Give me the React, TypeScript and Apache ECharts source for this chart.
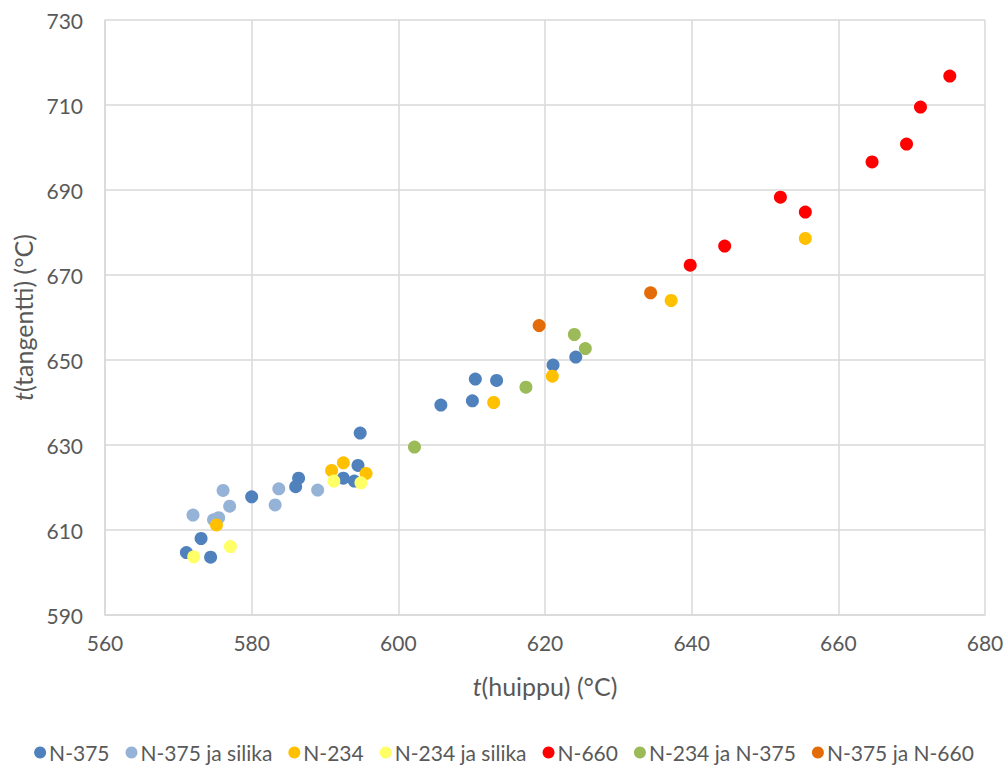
import React, { useEffect, useRef } from "react";
import * as echarts from "echarts";

// [t(huippu), t(tangentti)] pairs, °C
const n375: number[][] = [
  [594.8, 632.8], [594.5, 625.2], [592.5, 622.2], [594.0, 621.5], [586.4, 622.2],
  [586.0, 620.2], [580.0, 617.8], [573.1, 608.0], [571.1, 604.7], [574.4, 603.6],
  [624.2, 650.7], [621.1, 648.8], [610.5, 645.5], [613.4, 645.2], [610.1, 640.4],
  [605.8, 639.4],
];
const n375Silika: number[][] = [
  [583.7, 619.7], [589.0, 619.4], [576.1, 619.3], [577.0, 615.6], [583.2, 615.9],
  [572.0, 613.5], [574.8, 612.4], [575.5, 612.9],
];
const n234: number[][] = [
  [592.5, 625.8], [590.9, 624.0], [595.6, 623.3], [575.2, 611.2], [621.0, 646.2],
  [613.0, 640.0], [655.5, 678.6], [637.2, 664.0],
];
const n234Silika: number[][] = [
  [591.2, 621.5], [594.9, 621.1], [577.1, 606.1], [572.1, 603.7],
];
const n660: number[][] = [
  [675.2, 716.8], [671.2, 709.5], [669.3, 700.8], [664.6, 696.6], [652.1, 688.3],
  [655.5, 684.8], [644.5, 676.8], [639.8, 672.3],
];
const n234N375: number[][] = [
  [602.2, 629.5], [624.0, 656.0], [625.5, 652.7], [617.4, 643.6],
];
const n375N660: number[][] = [
  [634.4, 665.8], [619.2, 658.1],
];

const seriesDefs = [
  { name: "N-375", data: n375, color: "#4F81BD" },
  { name: "N-375 ja silika", data: n375Silika, color: "#95B3D7" },
  { name: "N-234", data: n234, color: "#FFC000" },
  { name: "N-234 ja silika", data: n234Silika, color: "#FFFF66" },
  { name: "N-660", data: n660, color: "#FF0000" },
  { name: "N-234 ja N-375", data: n234N375, color: "#9BBB59" },
  { name: "N-375 ja N-660", data: n375N660, color: "#E36C09" },
];

const FONT = "Lato, 'Noto Sans', sans-serif";
const GRID = "#D9D9D9";
const TEXT = "#595959";
const NAME_SIZE = 25;

export default function App() {
  const ref = useRef<HTMLDivElement>(null);

  useEffect(() => {
    if (!ref.current) return;
    const chart = echarts.init(ref.current, undefined, { renderer: "svg" });
    const axisCommon = {
      type: "value" as const,
      interval: 20,
      axisLine: { show: true, lineStyle: { color: GRID, width: 1.5 } },
      axisTick: { show: false },
      splitLine: { show: true, lineStyle: { color: GRID, width: 1.5 } },
      axisLabel: { color: TEXT, fontSize: 21, fontFamily: FONT },
      nameLocation: "middle" as const,
      nameTextStyle: {
        color: TEXT,
        fontSize: NAME_SIZE,
        fontFamily: FONT,
        rich: {
          i: { fontStyle: "italic", color: TEXT, fontSize: NAME_SIZE, fontFamily: FONT },
          n: { color: TEXT, fontSize: NAME_SIZE, fontFamily: FONT },
        },
      },
    };
    chart.setOption({
      animation: false,
      backgroundColor: "#ffffff",
      grid: { left: 105, right: 23, top: 20, bottom: 150, containLabel: false },
      xAxis: {
        ...axisCommon,
        min: 560,
        max: 680,
        name: "{i|t}{n|(huippu) (°C)}",
        nameGap: 58,
        axisLabel: { ...axisCommon.axisLabel, margin: 17 },
      },
      yAxis: {
        ...axisCommon,
        min: 590,
        max: 730,
        name: "{i|t}{n|(tangentti) (°C)}",
        nameGap: 66,
        axisLabel: { ...axisCommon.axisLabel, margin: 22 },
      },
      legend: {
        top: 742,
        left: "center",
        padding: 0,
        icon: "circle",
        itemWidth: 12,
        itemHeight: 12,
        itemGap: 16,
        textStyle: { color: TEXT, fontSize: 21, fontFamily: FONT, padding: [0, 0, 0, -2] },
        data: seriesDefs.map((s) => s.name),
      },
      series: seriesDefs.map((s) => ({
        name: s.name,
        type: "scatter",
        data: s.data,
        symbol: "circle",
        symbolSize: 13,
        itemStyle: { color: s.color, opacity: 1 },
      })),
    });
    return () => chart.dispose();
  }, []);

  return (
    <div
      ref={ref}
      style={{ position: "fixed", left: 0, top: 0, width: 1008, height: 765, overflow: "hidden" }}
    />
  );
}
